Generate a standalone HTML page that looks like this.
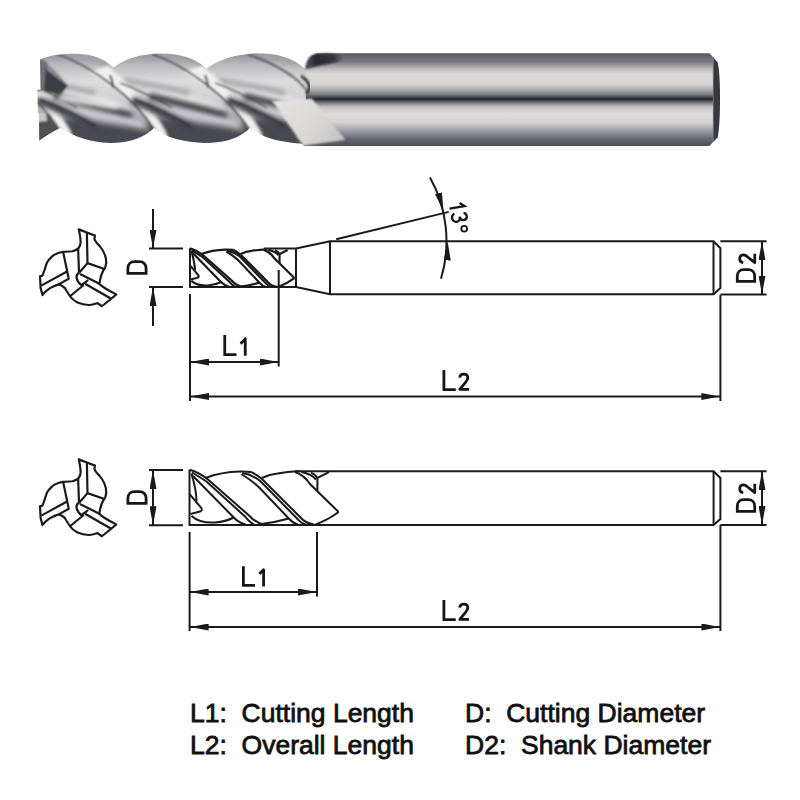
<!DOCTYPE html>
<html><head><meta charset="utf-8">
<style>
html,body{margin:0;padding:0;background:#fff;}
body{width:800px;height:800px;overflow:hidden;position:relative;}
svg{position:absolute;left:0;top:0;}
.t{font-family:"Liberation Sans",sans-serif;fill:#1a1a1a;}
.legend{position:absolute;font-family:"Liberation Sans",sans-serif;font-size:26.5px;-webkit-text-stroke:0.8px #111;color:#111;white-space:pre;line-height:32.2px;}
</style></head><body>
<svg width="800" height="800" viewBox="0 0 800 800">
<defs>
  <marker id="ah" viewBox="0 0 19 7" refX="19" refY="3.5" markerWidth="19" markerHeight="7" markerUnits="userSpaceOnUse" orient="auto-start-reverse">
    <path d="M0,0 L19,3.5 L0,7 Z" fill="#1a1a1a"/>
  </marker>

  <linearGradient id="shank" x1="0" y1="53.3" x2="0" y2="146" gradientUnits="userSpaceOnUse">
    <stop offset="0.0000" stop-color="#55555d"/>
    <stop offset="0.0291" stop-color="#64646c"/>
    <stop offset="0.0939" stop-color="#7a7a82"/>
    <stop offset="0.1694" stop-color="#c0bebd"/>
    <stop offset="0.2233" stop-color="#dad7d4"/>
    <stop offset="0.3312" stop-color="#d8d5d2"/>
    <stop offset="0.3959" stop-color="#a8a8ae"/>
    <stop offset="0.4498" stop-color="#74747c"/>
    <stop offset="0.4930" stop-color="#202028"/>
    <stop offset="0.5307" stop-color="#70707a"/>
    <stop offset="0.5793" stop-color="#c4c3c2"/>
    <stop offset="0.6548" stop-color="#dddbd8"/>
    <stop offset="0.7411" stop-color="#d6d4d2"/>
    <stop offset="0.8274" stop-color="#a2a2aa"/>
    <stop offset="0.9137" stop-color="#6c6c74"/>
    <stop offset="1.0000" stop-color="#4c4c54"/>
  </linearGradient>
  <linearGradient id="fbase" x1="0" y1="53" x2="0" y2="146" gradientUnits="userSpaceOnUse">
    <stop offset="0" stop-color="#8e8e96"/>
    <stop offset="0.12" stop-color="#b8b8bc"/>
    <stop offset="0.3" stop-color="#dcdcdc"/>
    <stop offset="0.5" stop-color="#d0d0d2"/>
    <stop offset="0.7" stop-color="#a8a8ae"/>
    <stop offset="0.85" stop-color="#7a7a82"/>
    <stop offset="1" stop-color="#5a5a62"/>
  </linearGradient>
  <linearGradient id="facet" x1="280" y1="100" x2="340" y2="145" gradientUnits="userSpaceOnUse">
    <stop offset="0" stop-color="#e4e3e0"/>
    <stop offset="0.6" stop-color="#d8d7d4"/>
    <stop offset="1" stop-color="#c2c2c2"/>
  </linearGradient>
  <linearGradient id="notch" x1="306" y1="60" x2="345" y2="58" gradientUnits="userSpaceOnUse">
    <stop offset="0" stop-color="#50505a"/>
    <stop offset="0.25" stop-color="#2a2a32"/>
    <stop offset="0.7" stop-color="#34343c"/>
    <stop offset="1" stop-color="#70707a"/>
  </linearGradient>
  <clipPath id="sil">
    <path d="M40,59.6 C50,55 60,54 75,53.8 C90,53.8 104,58 113.3,67.5 C125,59 140,54 160,53.6 C180,53.6 195,58 206.5,68.5 C218,60 235,54.5 255,53.3 C275,53 292,57 304,68 L310,70 L310,146 L300,143.5 C280,142 262,138 250,128 C240,138 225,143 205,143 C185,142 165,138 154,128 C145,137 130,143 110,143 C90,142 75,137 60,128 C52,132 46,136 39.2,140.8 L39,114.8 L37.9,112 L37.2,90.3 L40.5,89.6 Z"/>
  </clipPath>
  <filter id="bl" x="-5%" y="-20%" width="110%" height="140%"><feGaussianBlur stdDeviation="0.9"/></filter>
  <filter id="bl1" x="-20%" y="-30%" width="140%" height="160%"><feGaussianBlur stdDeviation="1.2"/></filter>
  <filter id="bl2" x="-20%" y="-30%" width="140%" height="160%"><feGaussianBlur stdDeviation="2"/></filter>

</defs>
<g id="photo">
  <g clip-path="url(#sil)">
   <g filter="url(#bl)">
    <rect x="30" y="50" width="290" height="100" fill="url(#fbase)"/>
<path d="M-41,84 C-16,90 9,98 31,106 L39,112 C9,106 -16,100 -41,96 Z" fill="#e6e6e6" filter="url(#bl2)"/>
<path d="M-41,96 C-16,102 9,108 37,116" fill="none" stroke="#44444c" stroke-width="7" filter="url(#bl2)"/>
<path d="M-41,108 C-6,113 21,118 49,125" fill="none" stroke="#cfcfd5" stroke-width="5" filter="url(#bl2)"/>
<path d="M-41,118 C-1,122 29,127 55,133 L69,152 L-41,152 Z" fill="#4a4a52" filter="url(#bl2)"/>
<path d="M54,84 C79,90 104,98 126,106 L134,112 C104,106 79,100 54,96 Z" fill="#e6e6e6" filter="url(#bl2)"/>
<path d="M54,96 C79,102 104,108 132,116" fill="none" stroke="#44444c" stroke-width="7" filter="url(#bl2)"/>
<path d="M54,108 C89,113 116,118 144,125" fill="none" stroke="#cfcfd5" stroke-width="5" filter="url(#bl2)"/>
<path d="M54,118 C94,122 124,127 150,133 L164,152 L54,152 Z" fill="#4a4a52" filter="url(#bl2)"/>
<path d="M149,84 C174,90 199,98 221,106 L229,112 C199,106 174,100 149,96 Z" fill="#e6e6e6" filter="url(#bl2)"/>
<path d="M149,96 C174,102 199,108 227,116" fill="none" stroke="#44444c" stroke-width="7" filter="url(#bl2)"/>
<path d="M149,108 C184,113 211,118 239,125" fill="none" stroke="#cfcfd5" stroke-width="5" filter="url(#bl2)"/>
<path d="M149,118 C189,122 219,127 245,133 L259,152 L149,152 Z" fill="#4a4a52" filter="url(#bl2)"/>
<path d="M244,84 C269,90 294,98 316,106 L324,112 C294,106 269,100 244,96 Z" fill="#e6e6e6" filter="url(#bl2)"/>
<path d="M244,96 C269,102 294,108 322,116" fill="none" stroke="#44444c" stroke-width="7" filter="url(#bl2)"/>
<path d="M244,108 C279,113 306,118 334,125" fill="none" stroke="#cfcfd5" stroke-width="5" filter="url(#bl2)"/>
<path d="M244,118 C284,122 314,127 340,133 L354,152 L244,152 Z" fill="#4a4a52" filter="url(#bl2)"/>
<path d="M19,50 C49,54 79,58 109,66 L109,50 Z" fill="#a0a0a6" filter="url(#bl2)"/>
<path d="M29,80 C49,84 69,87 95,93" fill="none" stroke="#a2a2a8" stroke-width="5" filter="url(#bl2)"/>
<path d="M-7,72 C19,85 45,108 59,129 L65,140 L73,140 L71,132 C61,112 37,88 13,66 Z" fill="#f0f0ee" filter="url(#bl1)"/>
<path d="M-38,54 C-1,67 39,98 59,129 L64,142" fill="none" stroke="#30303a" stroke-width="1.8"/>
<path d="M15,75 C17,79 18,83 18,88" fill="none" stroke="#3a3a42" stroke-width="2"/>
<path d="M25,83 C47,91 65,101 77,108" fill="none" stroke="#4a4a52" stroke-width="1.4"/>
<path d="M37,100 C57,108 79,118 99,130" fill="none" stroke="#44444c" stroke-width="8" filter="url(#bl2)"/>
<path d="M39,99 C59,106 79,116 95,126" fill="none" stroke="#2e2e36" stroke-width="1.5"/>
<path d="M114,50 C144,54 174,58 204,66 L204,50 Z" fill="#a0a0a6" filter="url(#bl2)"/>
<path d="M124,80 C144,84 164,87 190,93" fill="none" stroke="#a2a2a8" stroke-width="5" filter="url(#bl2)"/>
<path d="M88,72 C114,85 140,108 154,129 L160,140 L168,140 L166,132 C156,112 132,88 108,66 Z" fill="#f0f0ee" filter="url(#bl1)"/>
<path d="M57,54 C94,67 134,98 154,129 L159,142" fill="none" stroke="#30303a" stroke-width="1.8"/>
<path d="M110,75 C112,79 113,83 113,88" fill="none" stroke="#3a3a42" stroke-width="2"/>
<path d="M120,83 C142,91 160,101 172,108" fill="none" stroke="#4a4a52" stroke-width="1.4"/>
<path d="M132,100 C152,108 174,118 194,130" fill="none" stroke="#44444c" stroke-width="8" filter="url(#bl2)"/>
<path d="M134,99 C154,106 174,116 190,126" fill="none" stroke="#2e2e36" stroke-width="1.5"/>
<path d="M209,50 C239,54 269,58 299,66 L299,50 Z" fill="#a0a0a6" filter="url(#bl2)"/>
<path d="M219,80 C239,84 259,87 285,93" fill="none" stroke="#a2a2a8" stroke-width="5" filter="url(#bl2)"/>
<path d="M183,72 C209,85 235,108 249,129 L255,140 L263,140 L261,132 C251,112 227,88 203,66 Z" fill="#f0f0ee" filter="url(#bl1)"/>
<path d="M152,54 C189,67 229,98 249,129 L254,142" fill="none" stroke="#30303a" stroke-width="1.8"/>
<path d="M205,75 C207,79 208,83 208,88" fill="none" stroke="#3a3a42" stroke-width="2"/>
<path d="M215,83 C237,91 255,101 267,108" fill="none" stroke="#4a4a52" stroke-width="1.4"/>
<path d="M227,100 C247,108 269,118 289,130" fill="none" stroke="#44444c" stroke-width="8" filter="url(#bl2)"/>
<path d="M229,99 C249,106 269,116 285,126" fill="none" stroke="#2e2e36" stroke-width="1.5"/>
<path d="M247,54 C284,67 300,80 308,92" fill="none" stroke="#30303a" stroke-width="1.8"/>

    <path d="M36,56 L47,62 L47,90 L36,92 Z" fill="#707078"/>
    <path d="M46,66 L68,85.5 L60.7,95.3 L44,91 Z" fill="#3c3c44"/>
    <path d="M47,63 C55,70 62,78 68,85.5 L60,80 L47,70 Z" fill="#8a8a92"/>
    <path d="M60,95 C80,97 100,101 118,104 L118,109 C100,107 80,103 58,100 Z" fill="#eeeeee" filter="url(#bl2)"/>
    <path d="M36,112 L50,114 L59.5,129.7 L36,146 Z" fill="#505058"/>
    <path d="M36,112 L46,113 L47,121 L36,122 Z" fill="#c8c8c8"/>
   </g>
  </g>
  <path d="M317,53.3 L709.5,53.3 L713.5,57.5 L713.5,141.5 L709.5,146 L303.5,146 L306,93 L306,69 C307,62 310,56 317,53.3 Z" fill="url(#shank)"/>
  <path d="M713,57 L717.7,62.5 C719.5,70 720,85 720,99 C720,113 719.5,128 717.7,137.5 L713,142 Z" fill="#38383e"/>
  <path d="M713.3,57.5 L713.3,141.5" stroke="#7c90a0" stroke-width="0.7" fill="none"/>
  <path d="M301,76 C306,79 310,84 309.5,88 C309,91 307.5,92.5 306,93" fill="none" stroke="#26262e" stroke-width="2.6" filter="url(#bl)"/>
  <path d="M305,67.7 C306,63 308,58 311,55.7 C313,54.5 315,54.2 317,54 L327.5,53.5 C335,53.8 341,55 345.5,56.5 L344,58.7 C342,60 340,61 338,61.7 C334,62.8 330,63.5 327.5,64 C323,65 320,65.5 317,66.2 C313,67 309,68.5 306.5,69.2 Z" fill="url(#notch)" filter="url(#bl)"/>
  <path d="M272,101 L311.7,98.5 L345.5,139.7 L303.5,145.8 C295,135 285,118 272,101 Z" fill="url(#facet)" filter="url(#bl)"/>
</g>

<!-- ============ DRAWING 1 ============ -->
<g id="d1" fill="none" stroke="#1a1a1a" stroke-width="2">
  <g transform="translate(30,220) scale(0.125)" stroke-width="17.5" stroke-linejoin="round"><path d="M390,75 L455,100 L520,125 L515,150 C520,170 535,185 555,205 C590,245 610,290 610,340 C608,370 598,392 585,405 C572,430 560,465 555,510 C575,535 620,560 690,595 L650,630 L575,690 L540,665 C510,675 490,682 470,680 C430,678 400,668 380,660 C350,645 330,625 320,610 C300,580 285,555 280,545 C265,530 250,520 230,515 C200,525 170,540 160,545 C130,565 110,585 100,600 L85,545 L80,450 L100,445 C110,420 115,400 120,390 C130,350 140,330 150,320 C170,295 190,280 200,275 C220,265 240,258 265,255 C300,253 320,252 340,250 C360,245 378,235 385,230 C400,210 405,195 405,180 C405,150 400,120 390,75 Z"/>
<path d="M455,100 L460,345 L590,390"/>
<path d="M385,230 L392,420"/>
<path d="M460,345 L395,420"/>
<path d="M265,255 L310,470 L230,515"/>
<path d="M90,525 L300,410"/>
<path d="M395,420 C380,428 370,440 372,460 C375,480 390,505 410,520 C425,510 450,495 465,480"/>
<path d="M400,432 L555,510"/>
<path d="M440,510 L650,630"/>
<path d="M320,610 L430,520"/>
</g>
  <line x1="149" y1="248.5" x2="183" y2="248.5"/>
  <line x1="149" y1="287" x2="183" y2="287"/>
  <line x1="153" y1="209" x2="153" y2="248.5" marker-end="url(#ah)"/>
  <line x1="153" y1="326" x2="153" y2="287" marker-end="url(#ah)"/>
  <path d="M263.8,248.6 L296,248.6 L330,241.2 L713.5,241.2 L720.4,248.2 L720.4,288 L713.5,294.3 L330,294.3 L296,287 L190,287 L190,248.3"/>
  <line x1="296" y1="248.6" x2="296" y2="287"/>
  <line x1="330" y1="241.2" x2="330" y2="294.3"/>
  <line x1="713.5" y1="241.2" x2="713.5" y2="294.3"/>
  <g transform="translate(190,249.3) scale(0.7,0.705) translate(-189.5,-471.2)" stroke-width="3.1">
  <path d="M189.5,469.8 C195,471.3 201,474 208,479.5 L249,515.5 C252,519 256,522.5 264,524.6"/>
  <path d="M192,472.5 C197,475.5 202,478.5 206.5,481.5 L245,516.5 C248,520 250,522.5 254,524.6"/>
  <path d="M193,476 L233.75,517.5 C237,521 240,523 246,524.6"/>
  <path d="M205.5,478 C212,475.5 225,472 240,471.6 C245,471.5 249,471.8 251.25,472"/>
  <path d="M191.5,516 C197,521 205,523 215,522.5 C222,522 229,520 233.75,517.5"/>
  <path d="M189.5,494 L201,507.5 C202.5,509.5 202,511 200,511.5 L190.5,514"/>
  <path d="M191.5,473.5 C194.5,484 196.5,493 196.5,501"/>
  <path d="M251.25,472 C254,473 258,476 262.5,479.5 L300,517 C303,520.5 307,523.5 314,524.6"/>
  <path d="M242.25,473.1 C248,473.8 255,477 260.25,481 L298.5,520 C300,522 302,523.5 306,524.6"/>
  <path d="M241.5,474.25 C248,478 253,482 258.75,487 L288.75,518.5 C291,521 294,523.5 298,524.6"/>
  <path d="M261.75,478 C266,476 272,474 277.5,473.5 C285,472 292,471.5 300,471.25"/>
  <path d="M288.75,518.5 C282,520.5 272,523 258,524.6"/>
  <path d="M295,472 C301,474 306,478 310,484 L338.6,512"/>
  <path d="M338.6,512 C334,515.5 326,520.5 315.3,524.6"/>
  <path d="M301.4,472.1 C308,473.5 313,476 316,479.5"/>
  <path d="M311,472.6 C314,474 316.5,476 317.4,478 L329,472.1"/>
  <path d="M317.4,478 L317.4,490.7"/>
</g>
  <line x1="190" y1="294" x2="190" y2="401"/>
  <line x1="278.7" y1="270" x2="278.7" y2="366.5"/>
  <line x1="720.4" y1="295" x2="720.4" y2="401"/>
  <line x1="190" y1="362" x2="278.7" y2="362" marker-start="url(#ah)" marker-end="url(#ah)"/>
  <line x1="190" y1="396.5" x2="720.4" y2="396.5" marker-start="url(#ah)" marker-end="url(#ah)"/>
  <line x1="720.4" y1="241.2" x2="766.6" y2="241.2"/>
  <line x1="720.4" y1="294.5" x2="766.6" y2="294.5"/>
  <line x1="762" y1="241.2" x2="762" y2="294.5" marker-start="url(#ah)" marker-end="url(#ah)"/>
  <line x1="336.2" y1="239.3" x2="448.7" y2="211.9"/>
  <path d="M430,177.5 A131,131 0 0 1 441,278.7"/>
  <path d="M436.5,192.2 A131,131 0 0 1 443.6,211.5" marker-end="url(#ah)" stroke="none"/>
  <path d="M446.2,258.5 A131,131 0 0 0 447.6,241.5" marker-end="url(#ah)" stroke="none"/>
</g>
<!-- ============ DRAWING 2 ============ -->
<g id="d2" fill="none" stroke="#1a1a1a" stroke-width="2">
  <g transform="translate(30,450) scale(0.125)" stroke-width="17.5" stroke-linejoin="round"><path d="M390,75 L455,100 L520,125 L515,150 C520,170 535,185 555,205 C590,245 610,290 610,340 C608,370 598,392 585,405 C572,430 560,465 555,510 C575,535 620,560 690,595 L650,630 L575,690 L540,665 C510,675 490,682 470,680 C430,678 400,668 380,660 C350,645 330,625 320,610 C300,580 285,555 280,545 C265,530 250,520 230,515 C200,525 170,540 160,545 C130,565 110,585 100,600 L85,545 L80,450 L100,445 C110,420 115,400 120,390 C130,350 140,330 150,320 C170,295 190,280 200,275 C220,265 240,258 265,255 C300,253 320,252 340,250 C360,245 378,235 385,230 C400,210 405,195 405,180 C405,150 400,120 390,75 Z"/>
<path d="M455,100 L460,345 L590,390"/>
<path d="M385,230 L392,420"/>
<path d="M460,345 L395,420"/>
<path d="M265,255 L310,470 L230,515"/>
<path d="M90,525 L300,410"/>
<path d="M395,420 C380,428 370,440 372,460 C375,480 390,505 410,520 C425,510 450,495 465,480"/>
<path d="M400,432 L555,510"/>
<path d="M440,510 L650,630"/>
<path d="M320,610 L430,520"/>
</g>
  <line x1="149" y1="470" x2="183" y2="470"/>
  <line x1="149" y1="525.25" x2="183" y2="525.25"/>
  <line x1="153" y1="470" x2="153" y2="525.25" marker-start="url(#ah)" marker-end="url(#ah)"/>
  <path d="M295,471.2 L713.6,471.2 L720.4,478 L720.4,519 L713.6,524.9 L189.5,524.9 L189.5,469.8"/>
  <line x1="713.6" y1="471.2" x2="713.6" y2="524.9"/>
  <g>
  <path d="M189.5,469.8 C195,471.3 201,474 208,479.5 L249,515.5 C252,519 256,522.5 264,524.6"/>
  <path d="M192,472.5 C197,475.5 202,478.5 206.5,481.5 L245,516.5 C248,520 250,522.5 254,524.6"/>
  <path d="M193,476 L233.75,517.5 C237,521 240,523 246,524.6"/>
  <path d="M205.5,478 C212,475.5 225,472 240,471.6 C245,471.5 249,471.8 251.25,472"/>
  <path d="M191.5,516 C197,521 205,523 215,522.5 C222,522 229,520 233.75,517.5"/>
  <path d="M189.5,494 L201,507.5 C202.5,509.5 202,511 200,511.5 L190.5,514"/>
  <path d="M191.5,473.5 C194.5,484 196.5,493 196.5,501"/>
  <path d="M251.25,472 C254,473 258,476 262.5,479.5 L300,517 C303,520.5 307,523.5 314,524.6"/>
  <path d="M242.25,473.1 C248,473.8 255,477 260.25,481 L298.5,520 C300,522 302,523.5 306,524.6"/>
  <path d="M241.5,474.25 C248,478 253,482 258.75,487 L288.75,518.5 C291,521 294,523.5 298,524.6"/>
  <path d="M261.75,478 C266,476 272,474 277.5,473.5 C285,472 292,471.5 300,471.25"/>
  <path d="M288.75,518.5 C282,520.5 272,523 258,524.6"/>
  <path d="M295,472 C301,474 306,478 310,484 L338.6,512"/>
  <path d="M338.6,512 C334,515.5 326,520.5 315.3,524.6"/>
  <path d="M301.4,472.1 C308,473.5 313,476 316,479.5"/>
  <path d="M311,472.6 C314,474 316.5,476 317.4,478 L329,472.1"/>
  <path d="M317.4,478 L317.4,490.7"/>
</g>
  <line x1="189.6" y1="532" x2="189.6" y2="631"/>
  <line x1="317" y1="532" x2="317" y2="596.6"/>
  <line x1="720.4" y1="525" x2="720.4" y2="631"/>
  <line x1="189.6" y1="592" x2="317" y2="592" marker-start="url(#ah)" marker-end="url(#ah)"/>
  <line x1="189.6" y1="627" x2="720.4" y2="627" marker-start="url(#ah)" marker-end="url(#ah)"/>
  <line x1="720.4" y1="471.25" x2="766.6" y2="471.25"/>
  <line x1="720.4" y1="524.9" x2="766.6" y2="524.9"/>
  <line x1="762" y1="471.25" x2="762" y2="524.9" marker-start="url(#ah)" marker-end="url(#ah)"/>
</g>
<g fill="none" stroke="#161616" stroke-width="2.8" stroke-linejoin="miter" stroke-linecap="butt">
  <!-- D glyphs: local path, rotate -90 -->
  <path transform="translate(147.5,274.75) rotate(-90)" d="M1.4,-1.4 L1.4,-19.6 L6.5,-19.6 C10.5,-19.6 13.1,-17 13.1,-13 L13.1,-8 C13.1,-4 10.5,-1.4 6.5,-1.4 Z"/>
  <path transform="translate(147.5,504.75) rotate(-90)" d="M1.4,-1.4 L1.4,-19.6 L6.5,-19.6 C10.5,-19.6 13.1,-17 13.1,-13 L13.1,-8 C13.1,-4 10.5,-1.4 6.5,-1.4 Z"/>
  <!-- D2 -->
  <path transform="translate(756.1,282.7) rotate(-90)" d="M1.4,-1.4 L1.4,-18.8 L6.5,-18.8 C10.5,-18.8 13,-16.3 13,-12.3 L13,-7.9 C13,-3.9 10.5,-1.4 6.5,-1.4 Z"/>
  <path transform="translate(756.1,264.4) rotate(-90) scale(0.97,0.98)" d="M1.7,-13.1 C1.9,-15.6 3.6,-16.7 5.7,-16.7 C8.1,-16.7 9.8,-15.2 9.8,-12.9 C9.8,-11.3 9,-10 7.7,-8.6 L1.8,-1.35 L11,-1.35" stroke-linejoin="round"/>
  <path transform="translate(756.1,512.7) rotate(-90)" d="M1.4,-1.4 L1.4,-18.8 L6.5,-18.8 C10.5,-18.8 13,-16.3 13,-12.3 L13,-7.9 C13,-3.9 10.5,-1.4 6.5,-1.4 Z"/>
  <path transform="translate(756.1,494.4) rotate(-90) scale(0.97,0.98)" d="M1.7,-13.1 C1.9,-15.6 3.6,-16.7 5.7,-16.7 C8.1,-16.7 9.8,-15.2 9.8,-12.9 C9.8,-11.3 9,-10 7.7,-8.6 L1.8,-1.35 L11,-1.35" stroke-linejoin="round"/>
  <!-- L1 d1 -->
  <path d="M224.75,335 L224.75,354.6 L236.5,354.6"/>
  <path d="M240.5,343.6 Q243.3,341.4 245.25,338.7 L245.25,355.75" stroke-linejoin="round"/>
  <!-- L2 d1 -->
  <path d="M443.9,370 L443.9,389.6 L455.75,389.6"/>
  <path transform="translate(458,390.75)" d="M1.7,-13.1 C1.9,-15.6 3.6,-16.7 5.7,-16.7 C8.1,-16.7 9.8,-15.2 9.8,-12.9 C9.8,-11.3 9,-10 7.7,-8.6 L1.8,-1.35 L11,-1.35" stroke-linejoin="round"/>
  <!-- L1 d2 -->
  <path d="M243.4,566.25 L243.4,585.4 L255,585.4"/>
  <path d="M259.2,573.9 Q261.8,571.8 263.6,569.7 L263.6,586.6" stroke-linejoin="round"/>
  <!-- L2 d2 -->
  <path d="M443.9,600 L443.9,619.6 L455.75,619.6"/>
  <path transform="translate(458,620.75)" d="M1.7,-13.1 C1.9,-15.6 3.6,-16.7 5.7,-16.7 C8.1,-16.7 9.8,-15.2 9.8,-12.9 C9.8,-11.3 9,-10 7.7,-8.6 L1.8,-1.35 L11,-1.35" stroke-linejoin="round"/>
  <!-- 13 deg -->
  <g stroke-width="2.3">
  <path d="M459.6,203.0 L464.6,206.2 L449.4,208.6"/>
  <path transform="translate(451.3,213.6) rotate(81.5) translate(0,0)" d="M1,-12.2 C1.6,-14 3,-14.9 4.7,-14.9 C6.8,-14.9 8.2,-13.6 8.2,-11.6 C8.2,-9.4 6.6,-7.9 4.2,-7.9 C7,-7.9 8.9,-6.3 8.9,-4 C8.9,-1.6 7,-0.1 4.6,-0.1 C2.7,-0.1 1.2,-1.1 0.6,-3"/>
  <circle cx="464.2" cy="228.75" r="2.9" stroke-width="1.8"/>
  </g>
</g>
</svg>
<div class="legend" style="left:190px;top:696.5px;">L1:  Cutting Length
L2:  Overall Length</div>
<div class="legend" style="left:465px;top:696.5px;">D:  Cutting Diameter
D2:  Shank Diameter</div>
</body></html>
